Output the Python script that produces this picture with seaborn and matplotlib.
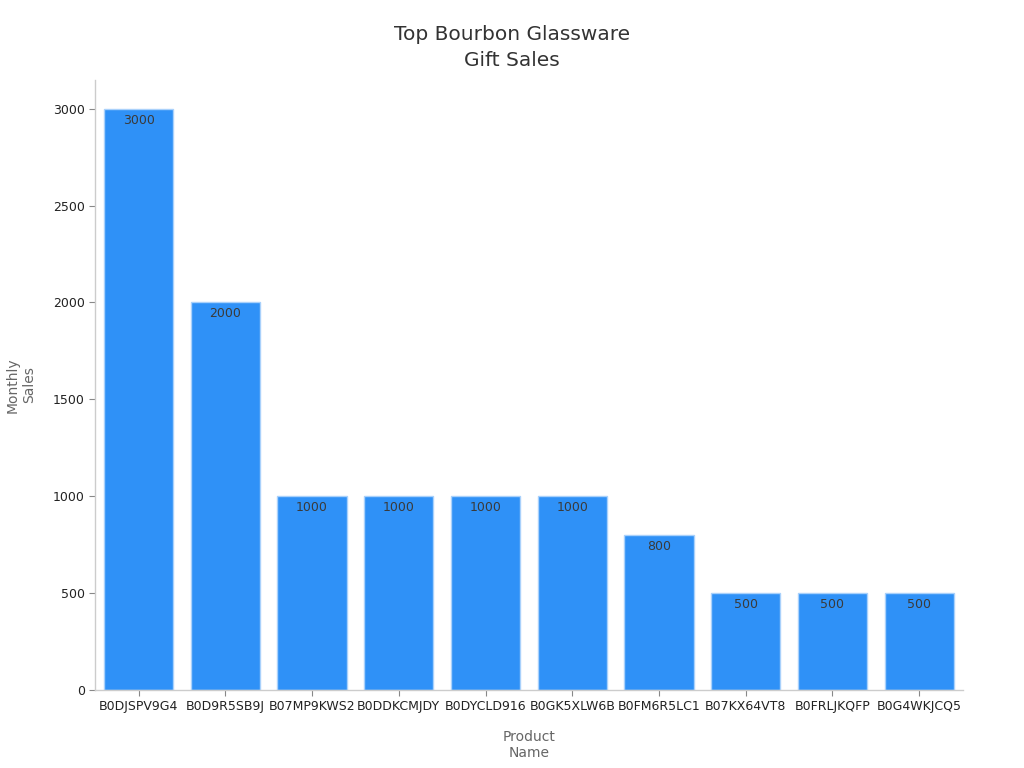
import matplotlib
matplotlib.use("Agg")
import matplotlib.pyplot as plt
import seaborn as sns
import pandas as pd

# data
products = ["B0DJSPV9G4", "B0D9R5SB9J", "B07MP9KWS2", "B0DDKCMJDY", "B0DYCLD916",
            "B0GK5XLW6B", "B0FM6R5LC1", "B07KX64VT8", "B0FRLJKQFP", "B0G4WKJCQ5"]
sales = [3000, 2000, 1000, 1000, 1000, 1000, 800, 500, 500, 500]

df = pd.DataFrame({"Product Name": products, "Monthly Sales": sales})

sns.set_style("white")
plt.rcParams['font.family'] = ['DejaVu Sans']

fig = plt.figure(figsize=(10.24, 7.68), dpi=100)
ax = fig.add_axes([0.093, 0.102, 0.847, 0.794])

sns.barplot(data=df, x="Product Name", y="Monthly Sales", color="#2f91f7",
            saturation=1, width=0.8, edgecolor="#a9d1fb", linewidth=1, ax=ax)

# value labels just inside the top of each bar
for i, v in enumerate(sales):
    ax.text(i, v - 25, str(v), ha="center", va="top", fontsize=9, color="#3a3a3a")

ax.set_xlim(-0.5, len(products) - 0.5)
ax.set_ylim(0, 3150)
ax.set_yticks([0, 500, 1000, 1500, 2000, 2500, 3000])

# title is centred on the figure, not the axes
fig.suptitle("Top Bourbon Glassware\nGift Sales", x=0.5, y=0.968, va="top",
             fontsize=14.5, color="#333333", linespacing=1.5)
ax.set_xlabel("Product\nName", fontsize=10, color="#666666", labelpad=12)
ax.set_ylabel("Monthly\nSales", fontsize=10, color="#666666", labelpad=12)

ax.tick_params(axis="both", bottom=True, left=True, labelsize=9,
               colors="#888888", length=4, width=0.8)
for lbl in ax.get_xticklabels() + ax.get_yticklabels():
    lbl.set_color("#222222")

sns.despine(ax=ax)
for s in ["left", "bottom"]:
    ax.spines[s].set_color("#cccccc")
    ax.spines[s].set_linewidth(1)

fig.savefig("out.png", dpi=100)
